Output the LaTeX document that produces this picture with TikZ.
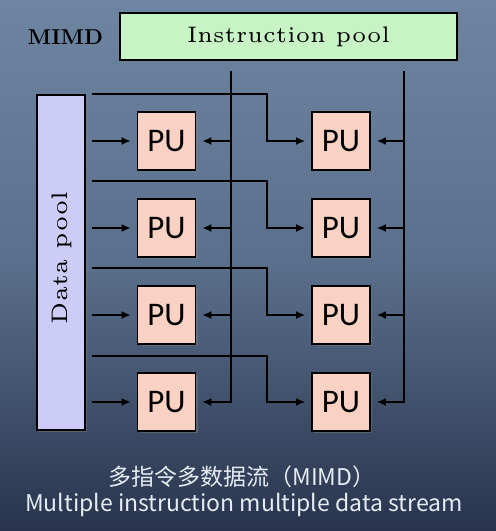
\documentclass[tikz,border=0pt]{standalone}
\usepackage{fontspec}
\newfontfamily\cjk{Noto Sans CJK SC}
\newfontfamily\pufont{Carlito}
\newfontfamily\lmfive{lmroman5-regular}[Extension=.otf,BoldFont=lmroman5-bold]
\newfontfamily\lmtenbf{lmroman10-bold}[Extension=.otf]
\usetikzlibrary{arrows.meta,shadows,calc}
\definecolor{bgtop}{HTML}{6E85A1}
\definecolor{bgmid}{HTML}{5A6F8B}
\definecolor{bgbot}{HTML}{28344D}
\definecolor{ipfill}{HTML}{C8F3C4}
\definecolor{dpfill}{HTML}{CCCCF6}
\definecolor{pufill}{HTML}{F9D2C3}
\definecolor{captxt}{HTML}{E6ECF3}
\tikzset{
  boxshadow/.style={drop shadow={shadow xshift=2pt,shadow yshift=-2pt,opacity=0.45}},
  pool/.style={draw=black,line width=1.3pt,boxshadow,inner sep=0pt},
  pubox/.style={draw=black,line width=1.6pt,fill=pufill,boxshadow,minimum width=58pt,minimum height=58pt,inner sep=0pt,font=\pufont\fontsize{33}{36}\selectfont},
  wire/.style={draw=black,line width=2.2pt},
  arr/.style={wire,-{Latex[length=9pt,width=8pt]},shorten >=6pt},
  sertxt/.style={font=\lmfive\fontsize{22.5}{25}\selectfont},
  captext/.style={text=captxt,font=\cjk\fontsize{23}{25}\selectfont}
}
\begin{document}
\begin{tikzpicture}[x=1pt,y=-1pt]
\useasboundingbox (0,0) rectangle (496,531);
\shade[top color=bgtop,bottom color=bgbot,middle color=bgmid] (0pt,0pt) rectangle (496pt,-531pt);
% pools
\node[pool,fill=ipfill,minimum width=337pt,minimum height=47pt] (ip) at (288.5,36.5) {};
\node[sertxt] (iptxt) at (288.5,37) {\resizebox{203pt}{\height}{Instruction pool}};
\node[font=\lmtenbf\fontsize{21.5}{24}\selectfont] (mimd) at (65.5,37) {\resizebox{75pt}{\height}{MIMD}};
\node[pool,fill=dpfill,minimum width=48pt,minimum height=335pt] (dp) at (61,262.5) {};
\node[sertxt,rotate=90] (dptxt) at (62,258) {\resizebox{132pt}{\height}{Data pool}};
% PUs
\foreach \r/\y in {1/141,2/228,3/315,4/402}{
  \node[pubox] (L\r) at (166.5,\y) {PU};
  \node[pubox] (R\r) at (341,\y) {PU};
}
% instruction buses
\coordinate (bA) at (231,71);
\coordinate (bB) at (404,71);
\draw[arr] (bA) |- (L4.east);
\draw[arr] (bB) |- (R4.east);
\foreach \r in {1,2,3}{
  \draw[arr] (L\r.east -| bA) -- (L\r.east);
  \draw[arr] (R\r.east -| bB) -- (R\r.east);
}
% data lines
\foreach \r/\y in {1/94,2/181,3/268,4/356}{
  \coordinate (s\r) at ($(dp.east)+(6,0)$);
  \draw[arr] (s\r |- L\r.west) -- (L\r.west);
  \draw[arr] (s\r |- 0,\y) -| ($(R\r.west)+(-44,0)$) -- (R\r.west);
}
% caption
\node[captext] (c1) at (242,477) {多指令多数据流（MIMD）};
\node[captext] (c2) at (244,505) {Multiple instruction multiple data stream};
\end{tikzpicture}
\end{document}
